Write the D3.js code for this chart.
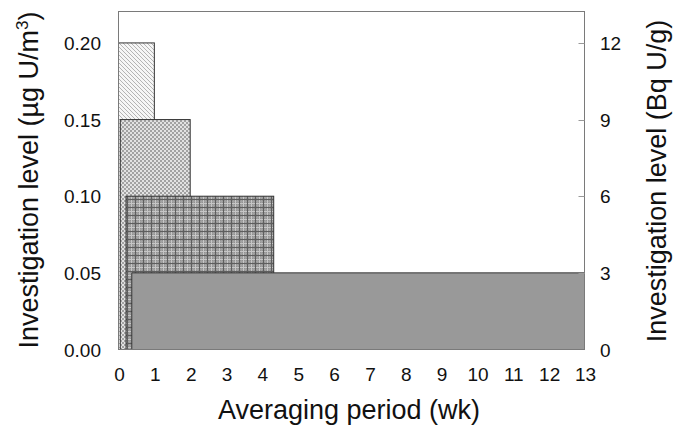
<html>
  <meta charset="utf-8">
  <head>
  <style>
    body { margin: 0; background: #fff; }
    svg text { font-family: "Liberation Sans", Arial, sans-serif; fill: #111; }
  </style>
  </head>
  <body>
    <div id="chart"></div>
    <script src="https://cdn.jsdelivr.net/npm/d3@7"></script>
    <script>
    'use strict';

    // averaging periods: start / end (wk) and investigation level (ug U/m3)
    var barStart = [0, 0.05, 0.21, 0.37];
    var barEnd   = [1, 2, 4.33, 13];
    var levels   = [0.20, 0.15, 0.10, 0.05];
    var fills    = ['url(#diag)', 'url(#cross)', 'url(#plaid)', '#999999'];

    var xTicks = [0, 1, 2, 3, 4, 5, 6, 7, 8, 9, 10, 11, 12, 13];
    var yTicks = [0, 0.05, 0.10, 0.15, 0.20];
    var y2Ticks = [0, 3, 6, 9, 12];

    var W = 673, H = 432;
    var m = {top: 11.5, right: 88.5, bottom: 82.5, left: 118.5};

    var svg = d3.select('#chart').append('svg')
      .attr('width', W).attr('height', H);

    var defs = svg.append('defs');

    var p1 = defs.append('pattern').attr('id', 'diag')
      .attr('patternUnits', 'userSpaceOnUse').attr('width', 4).attr('height', 4);
    p1.append('rect').attr('width', 4).attr('height', 4).attr('fill', '#f6f6f6');
    p1.append('path').attr('d', 'M-1,-1L5,5M-1,3L1,5M3,-1L5,1')
      .attr('stroke', '#b4b4b4').attr('stroke-width', 1);

    var p2 = defs.append('pattern').attr('id', 'cross')
      .attr('patternUnits', 'userSpaceOnUse').attr('width', 4).attr('height', 4);
    p2.append('rect').attr('width', 4).attr('height', 4).attr('fill', '#e2e2e2');
    p2.append('rect').attr('width', 2).attr('height', 2).attr('fill', '#a2a2a2');
    p2.append('rect').attr('x', 2).attr('y', 2).attr('width', 2).attr('height', 2).attr('fill', '#a2a2a2');

    var p3 = defs.append('pattern').attr('id', 'plaid')
      .attr('patternUnits', 'userSpaceOnUse').attr('width', 8).attr('height', 8);
    p3.append('rect').attr('width', 8).attr('height', 8).attr('fill', '#929292');
    p3.append('path').attr('d', 'M0,1.5H8M0,5.5H8M1.5,0V8M5.5,0V8')
      .attr('stroke', '#a2a2a2').attr('stroke-width', 1);
    p3.append('path').attr('d', 'M0,3.5H8M3.5,0V8')
      .attr('stroke', '#c6c6c6').attr('stroke-width', 1);
    p3.append('path').attr('d', 'M0,7.5H8M7.5,0V8')
      .attr('stroke', '#5e5e5e').attr('stroke-width', 1);

    var x = d3.scaleLinear().domain([0, 13]).range([m.left, W - m.right]);
    var y = d3.scaleLinear().domain([0, 0.2205]).range([H - m.bottom, m.top]);
    var y2 = d3.scaleLinear().domain([0, 0.2205 * 60]).range([H - m.bottom, m.top]);

    // bars, widest last so it sits on top
    svg.append('g').selectAll('rect')
      .data(levels)
      .enter().append('rect')
      .attr('x', function(d, i) { return x(barStart[i]); })
      .attr('y', function(d) { return y(d); })
      .attr('width', function(d, i) { return x(barEnd[i]) - x(barStart[i]); })
      .attr('height', function(d) { return y(0) - y(d); })
      .attr('fill', function(d, i) { return fills[i]; })
      .attr('stroke', '#333')
      .attr('stroke-width', 1);

    // frame
    svg.append('rect')
      .attr('x', m.left).attr('y', m.top)
      .attr('width', W - m.left - m.right).attr('height', H - m.top - m.bottom)
      .attr('fill', 'none').attr('stroke', '#7a7a7a').attr('stroke-width', 1);

    // right axis inward ticks
    svg.append('g').selectAll('line')
      .data(y2Ticks.slice(1))
      .enter().append('line')
      .attr('x1', W - m.right - 6).attr('x2', W - m.right)
      .attr('y1', function(d) { return Math.round(y2(d)) + 0.5; })
      .attr('y2', function(d) { return Math.round(y2(d)) + 0.5; })
      .attr('stroke', '#999');

    // tick labels
    svg.append('g').selectAll('text')
      .data(yTicks)
      .enter().append('text')
      .attr('x', 101).attr('y', function(d) { return y(d) + 7; })
      .attr('text-anchor', 'end').attr('font-size', 19)
      .text(function(d) { return d3.format('.2f')(d); });

    svg.append('g').selectAll('text')
      .data(y2Ticks)
      .enter().append('text')
      .attr('x', 600).attr('y', function(d) { return y2(d) + 7; })
      .attr('font-size', 19)
      .text(function(d) { return d; });

    svg.append('g').selectAll('text')
      .data(xTicks)
      .enter().append('text')
      .attr('x', function(d) { return x(d) + 1; }).attr('y', 381)
      .attr('text-anchor', 'middle').attr('font-size', 19)
      .text(function(d) { return d; });

    // axis titles
    svg.append('text')
      .attr('x', 349).attr('y', 419)
      .attr('text-anchor', 'middle').attr('font-size', 27)
      .text('Averaging period (wk)');

    var yt = svg.append('text')
      .attr('transform', 'translate(38,180) rotate(-90)')
      .attr('text-anchor', 'middle').attr('font-size', 27);
    yt.append('tspan').text('Investigation level (µg U/m');
    yt.append('tspan').attr('font-size', 17).attr('dy', -10).text('3');
    yt.append('tspan').attr('dy', 10).text(')');

    svg.append('text')
      .attr('transform', 'translate(666,181) rotate(-90)')
      .attr('text-anchor', 'middle').attr('font-size', 27)
      .text('Investigation level (Bq U/g)');

    </script>
  </body>
</html>
